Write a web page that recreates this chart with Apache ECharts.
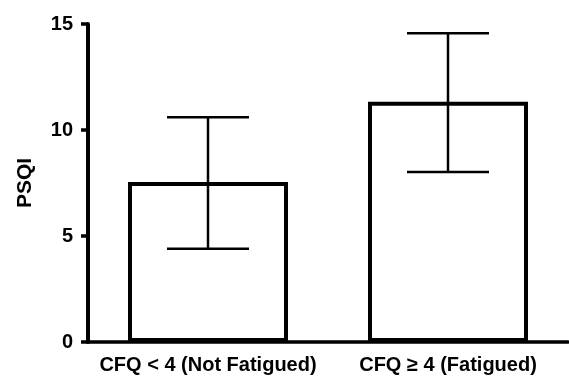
<!DOCTYPE html>
<html><head><meta charset="utf-8">
<script src="https://cdn.jsdelivr.net/npm/echarts@6/dist/echarts.min.js"></script>
<style>html,body{margin:0;padding:0;background:#fff}#c{width:569px;height:381px}</style>
</head><body><div id="c"></div>
<script>
var categories = ['CFQ < 4 (Not Fatigued)', 'CFQ \u2265 4 (Fatigued)'];
var means = [7.55, 11.33];
var errLow = [4.4, 8.02];
var errHigh = [10.6, 14.56];
var yTicks = [0, 5, 10, 15];

var chart = echarts.init(document.getElementById('c'));
var F = '"Liberation Sans", Arial, sans-serif';
chart.setOption({
  animation: false,
  grid: {left: 88, right: 1, top: 24, bottom: 39},
  xAxis: {
    type: 'category', data: categories,
    axisLine: {lineStyle: {color: '#000', width: 3.5}},
    axisTick: {show: false},
    axisLabel: {interval: 0, hideOverlap: false, color: '#000', fontFamily: F, fontWeight: 'bold', fontSize: 20, margin: 13}
  },
  yAxis: {
    type: 'value', min: yTicks[0], max: yTicks[yTicks.length - 1], interval: 5,
    name: 'PSQI', nameLocation: 'middle', nameGap: 52, nameRotate: 90,
    nameTextStyle: {color: '#000', fontFamily: F, fontWeight: 'bold', fontSize: 21},
    axisLine: {show: true, lineStyle: {color: '#000', width: 4}},
    axisTick: {show: true, length: 7, lineStyle: {color: '#000', width: 3.5}},
    axisLabel: {color: '#000', fontFamily: F, fontWeight: 'bold', fontSize: 20, margin: 15},
    splitLine: {show: false}
  },
  series: [{
    type: 'bar', data: means, barWidth: 160,
    itemStyle: {color: '#fff', borderColor: '#000', borderWidth: 4},
    z: 2
  }, {
    type: 'custom',
    data: categories.map(function (c, i) { return [i, errLow[i], errHigh[i]]; }),
    renderItem: function (params, api) {
      var x = api.value(0);
      var lo = api.coord([x, api.value(1)]);
      var hi = api.coord([x, api.value(2)]);
      var hw = 41;
      var st = {stroke: '#000', lineWidth: 2.5};
      return {type: 'group', children: [
        {type: 'line', shape: {x1: lo[0], y1: lo[1], x2: hi[0], y2: hi[1]}, style: st},
        {type: 'line', shape: {x1: lo[0] - hw, y1: lo[1], x2: lo[0] + hw, y2: lo[1]}, style: st},
        {type: 'line', shape: {x1: hi[0] - hw, y1: hi[1], x2: hi[0] + hw, y2: hi[1]}, style: st}
      ]};
    },
    z: 3
  }]
});
</script></body></html>
